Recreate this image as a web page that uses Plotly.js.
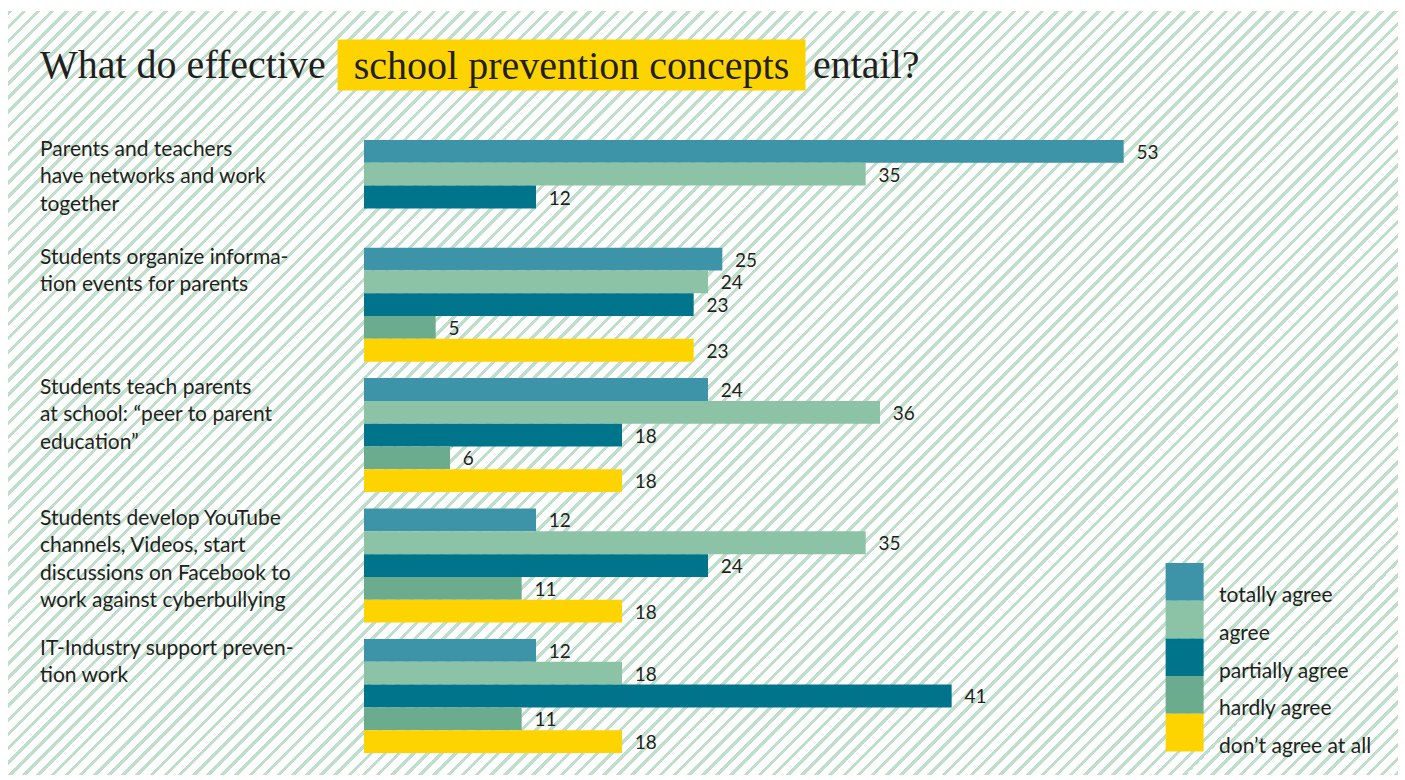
<!DOCTYPE html>
<html>
<head>
<meta charset="utf-8">
<script src="https://cdn.plot.ly/plotly-3.0.1.min.js"></script>
<style>
  html, body { margin: 0; padding: 0; background: #ffffff; }
  #wrap { position: relative; width: 1405px; height: 780px; overflow: hidden; }
  #hatch {
    position: absolute; left: 8px; top: 11px; width: 1390px; height: 764px;
    background: repeating-linear-gradient(135deg, #bfdfcc 0px, #bfdfcc 3.2px, #ffffff 3.2px, #ffffff 10px);
  }
  #chart { position: absolute; left: 0; top: 0; width: 1405px; height: 780px; }
</style>
</head>
<body>
<div id="wrap">
  <div id="hatch"></div>
  <div id="chart"></div>
</div>
<script>
// ---- data ----
const categories = [
  "Parents and teachers<br>have networks and work<br>together",
  "Students organize informa-<br>tion events for parents",
  "Students teach parents<br>at school: “peer to parent<br>education”",
  "Students develop YouTube<br>channels, Videos, start<br>discussions on Facebook to<br>work against cyberbullying",
  "IT-Industry support preven-<br>tion work"
];
const seriesNames = ["totally agree", "agree", "partially agree", "hardly agree", "don’t agree at all"];
const totallyAgree   = [53, 25, 24, 12, 12];
const agree          = [35, 24, 36, 35, 18];
const partiallyAgree = [12, 23, 18, 24, 41];
const hardlyAgree    = [null, 5, 6, 11, 11];
const dontAgree      = [null, 23, 18, 18, 18];
const seriesColors = ["#3d93a8", "#8cc2a6", "#00748b", "#6aac8d", "#fed400"];
const titleParts = ["What do effective", "school prevention concepts", "entail?"];

// ---- layout helpers ----
const W = 1405, H = 780;
const M = { l: 364, t: 140, b: 27 };
const pxPerUnit = 14.34, xMax = 60;
const plotW = xMax * pxPerUnit;
M.r = W - M.l - plotW;
const plotH = H - M.t - M.b;
const px2x = px => (px - M.l) / plotW;
const py2y = py => 1 - (py - M.t) / plotH;

const allSeries = [totallyAgree, agree, partiallyAgree, hardlyAgree, dontAgree];
// slot positions for each group
const groupStart = [];
let start = 0;
categories.forEach((c, g) => {
  groupStart.push(start);
  const count = allSeries.filter(s => s[g] !== null).length;
  start += Math.max(count, 4) + 0.72;
});
const yMax = groupStart[groupStart.length - 1] + 4 + 0.5;

const font = "Lato, 'Open Sans', sans-serif";
const txtColor = "#231f20";

const traces = allSeries.map((vals, s) => ({
  type: "bar",
  orientation: "h",
  name: seriesNames[s],
  x: vals,
  y: groupStart.map(g0 => g0 + s),
  width: 1,
  marker: { color: seriesColors[s], line: { width: 0 } },
  text: vals.map(v => v === null ? "" : String(v)),
  texttemplate: "\u00a0\u00a0%{text}",
  textposition: "outside",
  textfont: { family: font, size: 19, color: txtColor },
  cliponaxis: false,
  constraintext: "none",
  hoverinfo: "x+name"
}));

const annotations = [];
const shapes = [];

// category labels
categories.forEach((c, g) => {
  annotations.push({
    xref: "paper", yref: "y",
    x: px2x(38), y: groupStart[g] - 0.5,
    xanchor: "left", yanchor: "top", align: "left",
    yshift: 7,
    text: c, showarrow: false,
    font: { family: font, size: 21, color: txtColor }
  });
});

// title
const titleFont = { family: "'Liberation Serif', 'DejaVu Serif', serif", size: 40, color: txtColor };
annotations.push({
  xref: "paper", yref: "paper", x: px2x(38), y: py2y(64),
  xanchor: "left", yanchor: "middle", text: titleParts[0], showarrow: false, font: titleFont
});
annotations.push({
  xref: "paper", yref: "paper", x: px2x(337), y: py2y(65),
  xanchor: "left", yanchor: "middle", text: titleParts[1], showarrow: false, font: titleFont,
  bgcolor: "#fed400", borderpad: 0, width: 467, height: 50, align: "center", valign: "middle"
});
annotations.push({
  xref: "paper", yref: "paper", x: px2x(811), y: py2y(64),
  xanchor: "left", yanchor: "middle", text: titleParts[2], showarrow: false, font: titleFont
});

// legend
const swTop = 563, swH = 37.7;
seriesNames.forEach((n, i) => {
  const y0 = swTop + swH * i, y1 = y0 + swH;
  shapes.push({
    type: "rect", xref: "paper", yref: "paper",
    x0: px2x(1166), x1: px2x(1204), y0: py2y(y1), y1: py2y(y0),
    fillcolor: seriesColors[i], line: { width: 0 }, layer: "above"
  });
  annotations.push({
    xref: "paper", yref: "paper", x: px2x(1217), y: py2y(y1 - 7),
    xanchor: "left", yanchor: "middle", text: n, showarrow: false,
    font: { family: font, size: 21, color: txtColor }
  });
});

const layout = {
  width: W, height: H,
  margin: { l: M.l, r: M.r, t: M.t, b: M.b, pad: 0 },
  paper_bgcolor: "rgba(0,0,0,0)",
  plot_bgcolor: "rgba(0,0,0,0)",
  barmode: "overlay",
  showlegend: false,
  xaxis: { range: [0, xMax], visible: false, fixedrange: true },
  yaxis: { range: [yMax, -0.5], visible: false, fixedrange: true },
  annotations: annotations,
  shapes: shapes,
  font: { family: font, color: txtColor }
};

Plotly.newPlot("chart", traces, layout, { displayModeBar: false, staticPlot: true });
</script>
</body>
</html>
